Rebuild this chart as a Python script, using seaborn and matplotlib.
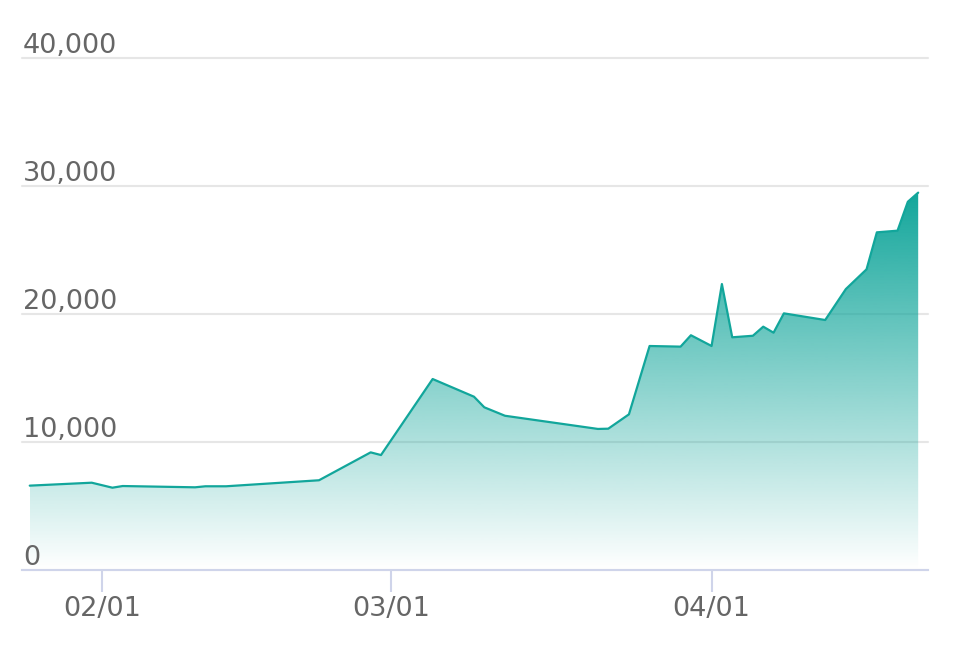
import numpy as np
import pandas as pd
import matplotlib
matplotlib.use("Agg")
import matplotlib.pyplot as plt
import matplotlib.dates as mdates
import matplotlib.transforms as mtrans
import seaborn as sns
from matplotlib.colors import to_rgb

# ---- data ----
dates = ["2019-01-25", "2019-01-31", "2019-02-02", "2019-02-03", "2019-02-10",
         "2019-02-11", "2019-02-13", "2019-02-22", "2019-02-27", "2019-02-28",
         "2019-03-05", "2019-03-09", "2019-03-10", "2019-03-12", "2019-03-21",
         "2019-03-22", "2019-03-24", "2019-03-26", "2019-03-29", "2019-03-30",
         "2019-04-01", "2019-04-02", "2019-04-03", "2019-04-05", "2019-04-06",
         "2019-04-07", "2019-04-08", "2019-04-12", "2019-04-14", "2019-04-16",
         "2019-04-17", "2019-04-19", "2019-04-20", "2019-04-21"]
values = [6590, 6820, 6430, 6560, 6460,
          6540, 6540, 7010, 9190, 8980,
          14920, 13540, 12710, 12050, 11020,
          11040, 12160, 17500, 17450, 18340,
          17500, 22340, 18180, 18300, 19010,
          18540, 20050, 19530, 21950, 23490,
          26380, 26510, 28770, 29480]

y_ticks = [0, 10000, 20000, 30000, 40000]
y_tick_labels = ["0", "10,000", "20,000", "30,000", "40,000"]
x_ticks = ["2019-02-01", "2019-03-01", "2019-04-01"]
x_tick_labels = ["02/01", "03/01", "04/01"]

teal = "#12a69b"
axis_col = "#cfd4ea"
grid_col = "#e6e6e6"
text_col = "#666666"

sns.set_theme(style="white")
plt.rcParams["font.family"] = ["DejaVu Sans"]

df = pd.DataFrame({"date": pd.to_datetime(dates), "value": values})

fig = plt.figure(figsize=(9.54, 6.5), dpi=100)
ax = fig.add_axes([22 / 954, 80 / 650, 906 / 954, 512 / 650])

# gradient fill under the line
poly = ax.fill_between(df["date"], df["value"], 0, color="none", lw=0)
x0 = mdates.date2num(df["date"].iloc[0])
x1 = mdates.date2num(df["date"].iloc[-1])
ymax = df["value"].max()
n = 256
img = np.zeros((n, 1, 4))
img[..., :3] = to_rgb(teal)
img[:, 0, 3] = np.linspace(0.0, 1.0, n)
im = ax.imshow(img, extent=[x0, x1, 0, ymax], origin="lower", aspect="auto",
               zorder=1, interpolation="bilinear")
im.set_clip_path(poly.get_paths()[0], transform=ax.transData)

sns.lineplot(data=df, x="date", y="value", color=teal, lw=1.6, ax=ax, zorder=3)

# limits
ax.set_xlim(x0 - 0.75, x1 + 0.95)
ax.set_ylim(0, 40000)

# grid
ax.set_yticks(y_ticks)
ax.set_yticklabels([])
ax.tick_params(axis="y", length=0)
ax.yaxis.grid(True, color=grid_col, lw=1.5)
for gl in ax.get_ygridlines():
    gl.set_clip_on(False)
ax.set_axisbelow(True)

for sp in ["left", "right", "top"]:
    ax.spines[sp].set_visible(False)
ax.spines["bottom"].set_color(axis_col)
ax.spines["bottom"].set_linewidth(1.5)
ax.spines["bottom"].set_zorder(4)

trans = mtrans.blended_transform_factory(ax.transAxes, ax.transData)
for v, lab in zip(y_ticks, y_tick_labels):
    ax.annotate(lab, xy=(0.001, v), xycoords=trans, xytext=(0, 3.5),
                textcoords="offset points", ha="left", va="baseline",
                fontsize=19.5, color=text_col, zorder=5)

ax.set_xticks(pd.to_datetime(x_ticks))
ax.set_xticklabels(x_tick_labels)
ax.tick_params(axis="x", direction="out", length=16, width=1.5, color=axis_col,
               pad=3, labelsize=19.5, labelcolor=text_col, bottom=True)
ax.set_xlabel("")
ax.set_ylabel("")

fig.savefig("out.png", dpi=100)
